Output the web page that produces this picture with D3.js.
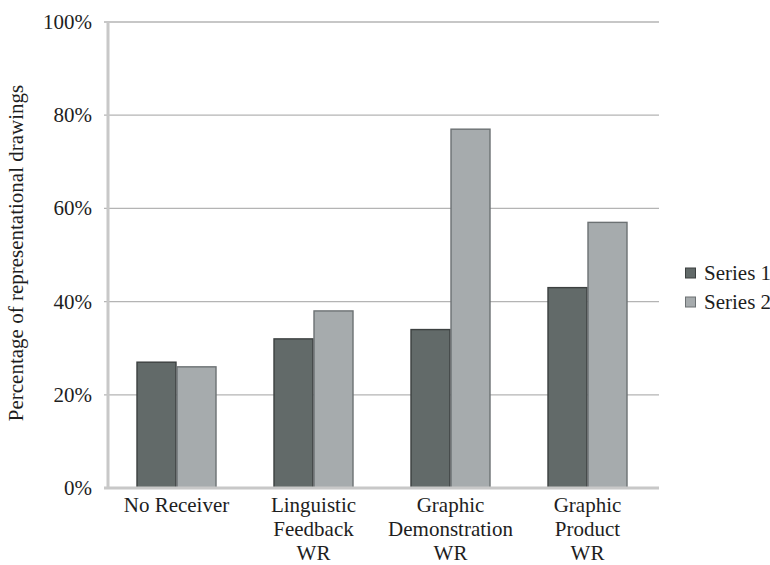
<!DOCTYPE html>
<html>
<head>
<meta charset="utf-8">
<script src="https://cdn.jsdelivr.net/npm/d3@7"></script>
<style>
  html, body { margin: 0; padding: 0; background: #fff; }
  svg { display: block; }
  text { font-family: "Liberation Serif", "Times New Roman", Times, serif; fill: #1e1e1e; }
</style>
</head>
<body>
<svg id="chart" width="770" height="565" font-family="Liberation Serif, serif"></svg>
<script>
// Chart data
const categories = [
  ["No Receiver"],
  ["Linguistic", "Feedback", "WR"],
  ["Graphic", "Demonstration", "WR"],
  ["Graphic", "Product", "WR"]
];
const seriesNames = ["Series 1", "Series 2"];
const series1 = [27, 32, 34, 43];
const series2 = [26, 38, 77, 57];
const yTicks = [0, 20, 40, 60, 80, 100];
const yTitle = "Percentage of representational drawings";

const colors = ["#626a69", "#a6abad"];
const strokes = ["#3c4040", "#6c7173"];
const fontSize = 21;

const svg = d3.select("#chart");
const plotLeft = 108, plotRight = 656, plotTop = 22, plotBottom = 488;

const x = d3.scaleBand()
  .domain(d3.range(categories.length))
  .range([plotLeft, plotRight])
  .paddingInner(0.416)
  .paddingOuter(0.208);

const xs = d3.scaleBand()
  .domain(d3.range(seriesNames.length))
  .range([0, x.bandwidth()]);

const y = d3.scaleLinear().domain([0, 100]).range([plotBottom, plotTop]);

// Horizontal gridlines with short ticks left of the axis
svg.append("g").selectAll("line")
  .data(yTicks.filter(d => d > 0))
  .join("line")
  .attr("x1", plotLeft - 4).attr("x2", plotRight + 3)
  .attr("y1", d => y(d)).attr("y2", d => y(d))
  .attr("stroke", "#b4b4b4").attr("stroke-width", 1.3);

// Y tick labels
svg.append("g").selectAll("text")
  .data(yTicks)
  .join("text")
  .attr("x", 92).attr("y", d => y(d))
  .attr("dy", "0.33em")
  .attr("text-anchor", "end")
  .attr("font-size", fontSize)
  .text(d => d + "%");

// Bars
const rows = categories.map((c, i) => [series1[i], series2[i]]);
svg.append("g").selectAll("g")
  .data(rows)
  .join("g")
  .attr("transform", (d, i) => `translate(${x(i)},0)`)
  .selectAll("rect")
  .data(d => d)
  .join("rect")
  .attr("x", (d, j) => xs(j) + 0.5)
  .attr("width", xs.bandwidth() - 1)
  .attr("y", d => y(d))
  .attr("height", d => y(0) - y(d))
  .attr("fill", (d, j) => colors[j])
  .attr("stroke", (d, j) => strokes[j])
  .attr("stroke-width", 1.4);

// Axis lines
svg.append("line")
  .attr("x1", plotLeft).attr("x2", plotLeft)
  .attr("y1", plotTop).attr("y2", plotBottom + 1)
  .attr("stroke", "#c8c8c8").attr("stroke-width", 3);
svg.append("line")
  .attr("x1", plotLeft - 4).attr("x2", plotRight + 3)
  .attr("y1", plotBottom).attr("y2", plotBottom)
  .attr("stroke", "#c8c8c8").attr("stroke-width", 3);

// Category labels
const catG = svg.append("g").selectAll("text")
  .data(categories)
  .join("text")
  .attr("x", (d, i) => x(i) + x.bandwidth() / 2)
  .attr("y", 512)
  .attr("text-anchor", "middle")
  .attr("font-size", fontSize);
catG.selectAll("tspan")
  .data(d => d)
  .join("tspan")
  .attr("x", function() { return this.parentNode.getAttribute("x"); })
  .attr("dy", (d, k) => k === 0 ? 0 : 24)
  .text(d => d);

// Y axis title
svg.append("text")
  .attr("transform", "translate(23,253) rotate(-90)")
  .attr("text-anchor", "middle")
  .attr("font-size", fontSize)
  .text(yTitle);

// Legend
const legend = svg.append("g").selectAll("g")
  .data(seriesNames)
  .join("g")
  .attr("transform", (d, i) => `translate(685,${273 + i * 29})`);
legend.append("rect")
  .attr("x", 0.5).attr("y", -5).attr("width", 10).attr("height", 10)
  .attr("fill", (d, i) => colors[i])
  .attr("stroke", (d, i) => strokes[i]).attr("stroke-width", 1);
legend.append("text")
  .attr("x", 19).attr("y", 0).attr("dy", "0.33em")
  .attr("font-size", fontSize)
  .text(d => d);
</script>
</body>
</html>
